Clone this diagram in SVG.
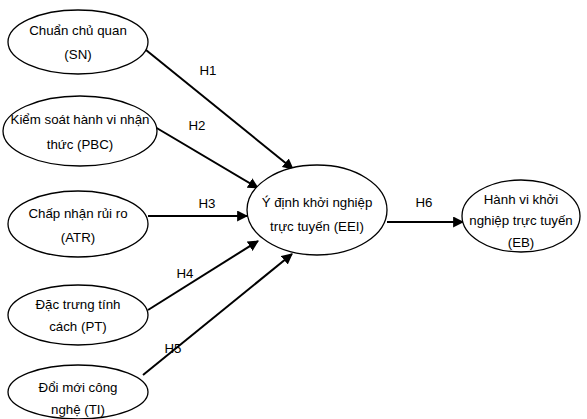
<svg xmlns="http://www.w3.org/2000/svg" width="587" height="419" viewBox="0 0 587 419">
<defs>
<style>
.n ellipse{fill:#fff;stroke:#000;stroke-width:1.3}
text{font-family:"Liberation Sans",Arial,sans-serif;font-size:13.3px;fill:#000;text-anchor:middle}
.c line{stroke:#000;stroke-width:2;marker-end:url(#ah)}
</style>
<marker id="ah" viewBox="0 0 10 10" refX="9" refY="5" markerWidth="5.5" markerHeight="5.5" orient="auto" markerUnits="strokeWidth">
<path d="M0,0 L10,5 L0,10 z" fill="#000"/>
</marker>
</defs>
<rect width="587" height="419" fill="#fff"/>
<g class="c" id="connectors">
<line x1="146" y1="50" x2="293" y2="169"/>
<line x1="155" y1="127" x2="258" y2="188"/>
<line x1="148" y1="216" x2="247" y2="216"/>
<line x1="148" y1="310" x2="258" y2="241"/>
<line x1="143" y1="375" x2="292" y2="254"/>
<line x1="387" y1="222" x2="463" y2="222"/>
</g>
<g id="labels">
<text x="208" y="75">H1</text>
<text x="197" y="130">H2</text>
<text x="207" y="208">H3</text>
<text x="185" y="278">H4</text>
<text x="173" y="353">H5</text>
<text x="424" y="207">H6</text>
</g>
<g class="n" id="SN"><ellipse cx="78" cy="42" rx="70" ry="32"/><text x="78" y="35">Chuẩn chủ quan</text><text x="78" y="59">(SN)</text></g>
<g class="n" id="PBC"><ellipse cx="80" cy="131" rx="77" ry="35"/><text x="80" y="124">Kiểm soát hành vi nhận</text><text x="80" y="149">thức (PBC)</text></g>
<g class="n" id="ATR"><ellipse cx="78" cy="224" rx="70" ry="33"/><text x="78" y="218">Chấp nhận rủi ro</text><text x="78" y="242">(ATR)</text></g>
<g class="n" id="PT"><ellipse cx="78" cy="315" rx="70" ry="30"/><text x="78" y="309">Đặc trưng tính</text><text x="78" y="331">cách (PT)</text></g>
<g class="n" id="TI"><ellipse cx="78" cy="392" rx="70" ry="27"/><text x="78" y="392">Đổi mới công</text><text x="78" y="414">nghệ (TI)</text></g>
<g class="n" id="EEI"><ellipse cx="317" cy="210" rx="70" ry="45"/><text x="317" y="207">Ý định khởi nghiệp</text><text x="317" y="231">trực tuyến (EEI)</text></g>
<g class="n" id="EB"><ellipse cx="521" cy="216" rx="59" ry="36"/><text x="521" y="204">Hành vi khởi</text><text x="521" y="225">nghiệp trực tuyến</text><text x="521" y="247">(EB)</text></g>
</svg>
